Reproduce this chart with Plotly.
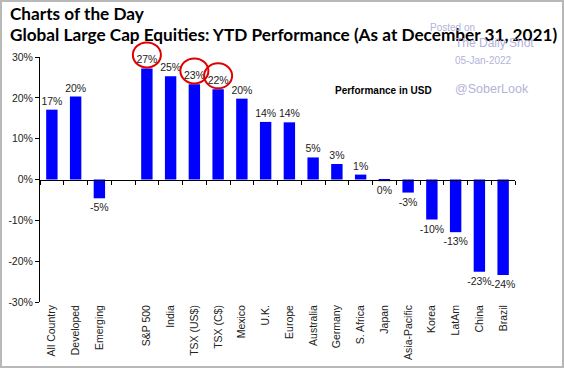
import plotly.graph_objects as go

categories = ["All Country", "Developed", "Emerging", " ", "S&P 500", "India",
              "TSX (US$)", "TSX (C$)", "Mexico", "U.K.", "Europe", "Australia",
              "Germany", "S. Africa", "Japan", "Asia-Pacific", "Korea", "LatAm",
              "China", "Brazil"]
values = [17.1, 20.3, -4.6, None, 27.2, 25.3, 23.3, 22.1, 19.8, 14.1, 14.0, 5.4,
          3.8, 1.2, -0.4, -3.2, -9.8, -12.9, -22.6, -23.4]
labels = ["17%", "20%", "-5%", "", "27%", "25%", "23%", "22%", "20%", "14%", "14%",
          "5%", "3%", "1%", "0%", "-3%", "-10%", "-13%", "-23%", "-24%"]
circled = ["S&P 500", "TSX (US$)", "TSX (C$)"]
y_ticks = [30, 20, 10, 0, -10, -20, -30]
y_tick_text = ["30%", "20%", "10%", "0%", "-10%", "-20%", "-30%"]

W, H = 564, 368
ML, MR, MT, MB = 40, 49, 57, 66
PW, PH = W - ML - MR, H - MT - MB
YMIN, YMAX = -30, 30
N = len(categories)

fig = go.Figure()
fig.add_trace(go.Bar(
    x=categories, y=values, text=labels, textposition="outside",
    constraintext="none",
    textfont=dict(family="Liberation Sans, Arial", size=10.5, color="#222222"),
    marker=dict(color="#0000FF", line=dict(width=0)),
    cliponaxis=False, hoverinfo="skip",
))
# invisible trace on the zero-crossing axis for its ticks
fig.add_trace(go.Scatter(x=categories, y=[0]*N, xaxis="x2",
                         mode="markers", marker=dict(opacity=0), hoverinfo="skip",
                         showlegend=False))

fig.update_layout(
    width=W, height=H, margin=dict(l=ML, r=MR, t=MT, b=MB),
    paper_bgcolor="white", plot_bgcolor="white", showlegend=False,
    bargap=0.52,
    xaxis=dict(type="category", categoryorder="array", categoryarray=categories,
               range=[-0.5, N - 0.5], showline=False, ticks="",
               tickangle=-90, showgrid=False, automargin=False,
               tickfont=dict(family="Liberation Sans, Arial", size=10.5, color="#222222")),
    xaxis2=dict(type="category", categoryorder="array", categoryarray=categories,
                overlaying="x", anchor="free", position=0.5, side="bottom",
                range=[-0.5, N - 0.5], showline=True, linecolor="black",
                linewidth=1, ticks="outside", tickson="boundaries", ticklen=4,
                tickcolor="black", showticklabels=False, showgrid=False),
    yaxis=dict(range=[YMIN, YMAX], tickvals=y_ticks, ticktext=y_tick_text,
               showline=True, linecolor="black", linewidth=1, ticks="outside",
               ticklen=4, tickcolor="black", showgrid=False, zeroline=False,
               automargin=False,
               tickfont=dict(family="Liberation Sans, Arial", size=10.5, color="#222222")),
)

# red circles around highlighted labels (paper coords mapped from data)
for c in circled:
    i = categories.index(c)
    v = values[i]
    xc = (i + 0.5) / N
    yc = (v + 3.3 - YMIN) / (YMAX - YMIN)
    fig.add_shape(type="circle", xref="paper", yref="paper",
                  x0=xc - 14 / PW, x1=xc + 14 / PW, y0=yc - 12.5 / PH, y1=yc + 12.5 / PH,
                  line=dict(color="#E00000", width=2))

annos = [
    dict(text="<b>Charts of the Day</b>", x=8, y=13, size=17.2, color="black",
         font="Lato, Open Sans"),
    dict(text="<b>Global Large Cap Equities: YTD Performance (As at December 31, 2021)</b>",
         x=8, y=34, size=17.2, color="black", font="Lato, Open Sans"),
    dict(text="Posted on", x=428, y=27, size=10, color="#b3b3d9", font="Liberation Sans"),
    dict(text="The Daily Shot", x=453, y=43, size=12, color="#b3b3d9", font="Liberation Sans"),
    dict(text="05-Jan-2022", x=453, y=60, size=10, color="#b3b3d9", font="Liberation Sans"),
    dict(text="@SoberLook", x=453, y=89, size=12.5, color="#b3b3d9", font="Liberation Sans"),
    dict(text="<b>Performance in USD</b>", x=333, y=90, size=10, color="black",
         font="Liberation Sans"),
]
for a in annos:
    fig.add_annotation(text=a["text"], xref="paper", yref="paper",
                       x=(a["x"] - ML) / PW, y=1 - (a["y"] - MT) / PH,
                       xanchor="left", yanchor="middle", showarrow=False,
                       font=dict(family=a["font"], size=a["size"], color=a["color"]))

# outer grey border
fig.add_shape(type="rect", xref="paper", yref="paper",
              x0=(1 - ML) / PW, x1=(W - 1 - ML) / PW,
              y0=1 - (H - 1 - MT) / PH, y1=1 - (1 - MT) / PH,
              line=dict(color="#b8b8b8", width=2), layer="below")

fig.write_html("out.html", config={"displayModeBar": False},
               post_script="document.body.style.margin='0';")
